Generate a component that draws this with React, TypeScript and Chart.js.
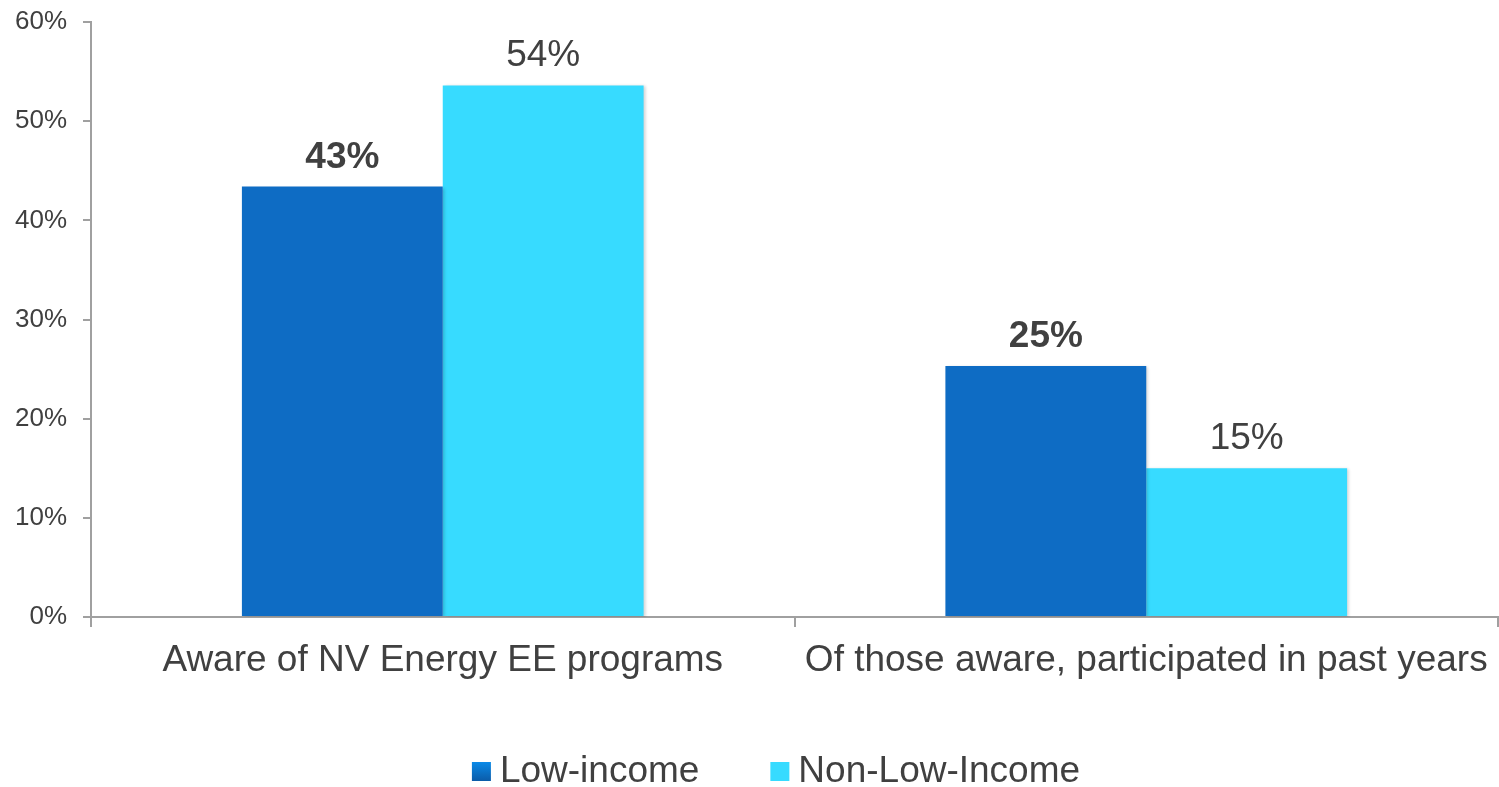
import React, { useEffect, useRef } from "react";
import { Chart, registerables } from "chart.js";

Chart.register(...registerables);

const categories = ["Aware of NV Energy EE programs", "Of those aware, participated in past years"];
const seriesNames = ["Low-income", "Non-Low-Income"];
const lowIncome = [43.4, 25.3];
const nonLowIncome = [53.6, 15.0];
const yMin = 0;
const yMax = 60;
const yStep = 10;

const COLOR_LOW = "#0E6CC4";
const COLOR_NONLOW = "#37DBFF";
const TEXT = "#404040";
const AXIS = "#a0a0a0";
const FONT = "'Liberation Sans', Arial, Helvetica, sans-serif";

const W = 1499;
const H = 787;

const barShadow = {
  id: "barShadow",
  beforeDatasetsDraw(chart: any) {
    const ctx = chart.ctx;
    ctx.save();
    ctx.shadowColor = "rgba(0,0,0,0.18)";
    ctx.shadowBlur = 3;
    ctx.shadowOffsetX = 2;
    ctx.shadowOffsetY = 1;
  },
  afterDatasetsDraw(chart: any) {
    chart.ctx.restore();
  },
};

const dataLabels = {
  id: "dataLabels",
  afterDraw(chart: any) {
    const ctx = chart.ctx;
    ctx.save();
    ctx.textAlign = "center";
    ctx.textBaseline = "alphabetic";
    ctx.fillStyle = TEXT;
    chart.data.datasets.forEach((ds: any, di: number) => {
      const meta = chart.getDatasetMeta(di);
      ctx.font = (di === 0 ? "bold " : "") + "37px " + FONT;
      meta.data.forEach((el: any, i: number) => {
        const v = ds.data[i] as number;
        ctx.fillText(Math.round(v) + "%", el.x, el.y - 19);
      });
    });
    ctx.restore();
  },
};

const customLegend = {
  id: "customLegend",
  afterDraw(chart: any) {
    const ctx = chart.ctx;
    ctx.save();
    ctx.font = "37px " + FONT;
    ctx.textBaseline = "alphabetic";
    ctx.textAlign = "left";
    const box = 19;
    const gap = 9;
    const spacing = 71;
    const widths = seriesNames.map((n) => ctx.measureText(n).width);
    const total = widths.reduce((a, w) => a + box + gap + w, 0) + spacing * (seriesNames.length - 1);
    const centerX = 776;
    let x = centerX - total / 2;
    const baseline = 782;
    const boxTop = 762;
    seriesNames.forEach((name, i) => {
      if (i === 0) {
        const g = ctx.createLinearGradient(0, boxTop, 0, boxTop + box);
        g.addColorStop(0, "#0A8AE8");
        g.addColorStop(1, "#0B5BA8");
        ctx.fillStyle = g;
      } else {
        ctx.fillStyle = COLOR_NONLOW;
      }
      ctx.fillRect(x, boxTop, box, box);
      x += box + gap;
      ctx.fillStyle = TEXT;
      ctx.fillText(name, x, baseline);
      x += widths[i] + spacing;
    });
    ctx.restore();
  },
};

export default function App() {
  const ref = useRef<HTMLCanvasElement | null>(null);

  useEffect(() => {
    if (!ref.current) return;
    const chart = new Chart(ref.current, {
      type: "bar",
      data: {
        labels: categories,
        datasets: [
          {
            label: seriesNames[0],
            data: lowIncome,
            backgroundColor: COLOR_LOW,
            borderWidth: 0,
            categoryPercentage: 0.571,
            barPercentage: 1.0,
          },
          {
            label: seriesNames[1],
            data: nonLowIncome,
            backgroundColor: COLOR_NONLOW,
            borderWidth: 0,
            categoryPercentage: 0.571,
            barPercentage: 1.0,
          },
        ],
      },
      options: {
        responsive: false,
        animation: false,
        devicePixelRatio: 1,
        layout: { padding: { top: 22, right: 1, left: 0, bottom: 0 } },
        plugins: {
          legend: { display: false },
          tooltip: { enabled: false },
          title: { display: false },
        },
        scales: {
          x: {
            offset: true,
            grid: {
              display: true,
              offset: true,
              drawOnChartArea: false,
              drawTicks: true,
              tickLength: 10,
              color: AXIS,
              lineWidth: 2,
            },
            border: { display: true, color: AXIS, width: 2 },
            ticks: {
              color: TEXT,
              font: { family: FONT, size: 37 },
              padding: 12,
              maxRotation: 0,
              autoSkip: false,
            },
            afterFit(scale: any) {
              scale.height = 170;
              scale.paddingLeft = 0;
              scale.paddingRight = 0;
            },
          },
          y: {
            min: yMin,
            max: yMax,
            grid: {
              display: true,
              drawOnChartArea: false,
              drawTicks: true,
              tickLength: 8,
              color: AXIS,
              lineWidth: 2,
            },
            border: { display: true, color: AXIS, width: 2 },
            ticks: {
              stepSize: yStep,
              color: TEXT,
              font: { family: FONT, size: 26 },
              padding: 16,
              callback: (v: any) => v + "%",
            },
            afterFit(scale: any) {
              scale.width = 91;
              scale.paddingTop = 0;
              scale.paddingBottom = 0;
            },
          },
        },
      },
      plugins: [barShadow, dataLabels, customLegend],
    });
    return () => chart.destroy();
  }, []);

  return (
    <div style={{ position: "fixed", left: 0, top: 0, width: W, height: H, background: "#fff" }}>
      <canvas ref={ref} width={W} height={H} style={{ display: "block" }} />
    </div>
  );
}
